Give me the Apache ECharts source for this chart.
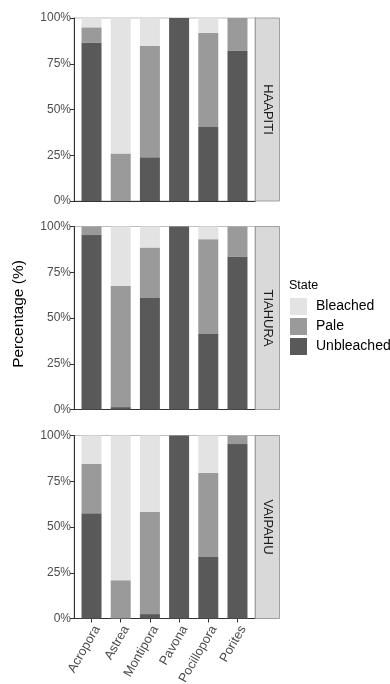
<!DOCTYPE html>
<html><head><meta charset="utf-8">
<script src="https://cdn.jsdelivr.net/npm/echarts@6/dist/echarts.min.js"></script>
<style>html,body{margin:0;padding:0;background:#fff}#c{width:390px;height:684px}</style>
</head><body><div id="c"></div>
<script>
const categories = ['Acropora','Astrea','Montipora','Pavona','Pocillopora','Porites'];
const sites = ['HAAPITI','TIAHURA','VAIPAHU'];
const states = ['Bleached','Pale','Unbleached'];
// values per site (percent), in category order
const unbleached = [
  [86.6, 0, 23.9, 100, 40.4, 82.0],
  [95.3, 1.3, 60.9, 100, 41.3, 83.6],
  [57.5, 0, 2.4, 100, 33.6, 95.3]
];
const pale = [
  [8.3, 25.9, 60.8, 0, 51.4, 18.0],
  [4.7, 66.2, 27.6, 0, 51.8, 16.4],
  [27.1, 20.9, 55.9, 0, 45.9, 4.7]
];
const bleached = [
  [5.1, 74.1, 15.3, 0, 8.2, 0],
  [0, 32.5, 11.5, 0, 6.9, 0],
  [15.4, 79.1, 41.7, 0, 20.5, 0]
];

const colors = {Bleached:'#e3e3e3', Pale:'#9a9a9a', Unbleached:'#595959'};
const FONT = 'Liberation Sans';
const panelTops = [18, 226.5, 435.5];
const panelH = 183;
const left = 74, plotW = 181;
const unit = plotW / 6.2;            // ggplot discrete expansion of 0.6 units each side
const innerLeft = left + 0.1 * unit, innerW = 6 * unit;

const grids = [], xAxes = [], yAxes = [], series = [], graphics = [];

sites.forEach((site, p) => {
  const last = p === sites.length - 1;
  const gFrame = p*2, gBars = p*2+1;
  grids.push({left:left, top:panelTops[p], width:plotW, height:panelH, show:true, borderColor:'#bdbdbd', borderWidth:1, backgroundColor:'transparent', containLabel:false, outerBoundsMode:'none'});
  grids.push({left:innerLeft, top:panelTops[p], width:innerW, height:panelH, containLabel:false, outerBoundsMode:'none'});
  // frame axes
  xAxes.push({type:'value', gridIndex:gFrame, min:0, max:1, splitLine:{show:false},
    axisLine:{show:true, onZero:false, lineStyle:{color:'#333', width:1}}, axisTick:{show:false}, axisLabel:{show:false}});
  yAxes.push({type:'value', gridIndex:gFrame, min:0, max:100, interval:25, splitLine:{show:false},
    axisLine:{show:true, lineStyle:{color:'#333', width:1}},
    axisTick:{show:true, length:4, lineStyle:{color:'#333'}},
    axisLabel:{margin:3, fontFamily:FONT, fontSize:12, color:'#4d4d4d', formatter:'{value}%'}});
  yAxes.push({type:'value', gridIndex:gFrame, min:0, max:100, position:'right', splitLine:{show:false},
    axisTick:{show:false}, axisLabel:{show:false}, axisLine:{show:true, lineStyle:{color:'#333', width:1}}});
  // bar axes
  xAxes.push({type:'category', gridIndex:gBars, data:categories, boundaryGap:true,
    axisLine:{show:false},
    axisTick:{show:last, alignWithLabel:true, length:4, lineStyle:{color:'#333'}},
    axisLabel:{show:last, interval:0, rotate:60, margin:5, verticalAlign:'top', fontFamily:FONT, fontSize:12.8, color:'#4d4d4d'}});
  yAxes.push({type:'value', gridIndex:gBars, min:0, max:100, show:false});
  const xi = p*2+1, yi = p*3+2;
  const mk = (name, arr) => ({
    name, type:'bar', stack:'s'+p, xAxisIndex:xi, yAxisIndex:yi, barWidth:20,
    itemStyle:{color:colors[name]}, data:arr[p]
  });
  series.push(mk('Unbleached', unbleached), mk('Pale', pale), mk('Bleached', bleached));
  graphics.push({type:'rect', shape:{x:255.5, y:panelTops[p], width:24, height:panelH},
    style:{fill:'#d9d9d9', stroke:'#a0a0a0', lineWidth:1}, z:10});
  graphics.push({type:'text', x:267.5, y:panelTops[p]+panelH/2, rotation:-Math.PI/2,
    style:{text:site, font:'13px "'+FONT+'"', fill:'#1a1a1a', align:'center', verticalAlign:'middle'}, z:11});
});

graphics.push({type:'text', x:19, y:314, rotation:Math.PI/2,
  style:{text:'Percentage (%)', font:'15.5px "'+FONT+'"', fill:'#000', align:'center', verticalAlign:'middle'}});
graphics.push({type:'text', x:289, y:279,
  style:{text:'State', font:'12.5px "'+FONT+'"', fill:'#000', align:'left', verticalAlign:'top'}});

const chart = echarts.init(document.getElementById('c'), null, {renderer:'canvas'});
chart.setOption({
  animation:false,
  grid:grids, xAxis:xAxes, yAxis:yAxes, series:series,
  legend:{data:states, orient:'vertical', left:290, top:298, padding:0, itemWidth:17, itemHeight:17, itemGap:3,
    icon:'rect', selectedMode:false,
    textStyle:{fontFamily:FONT, fontSize:14, color:'#000', padding:[0,0,0,4]}},
  graphic:graphics
});
</script></body></html>
